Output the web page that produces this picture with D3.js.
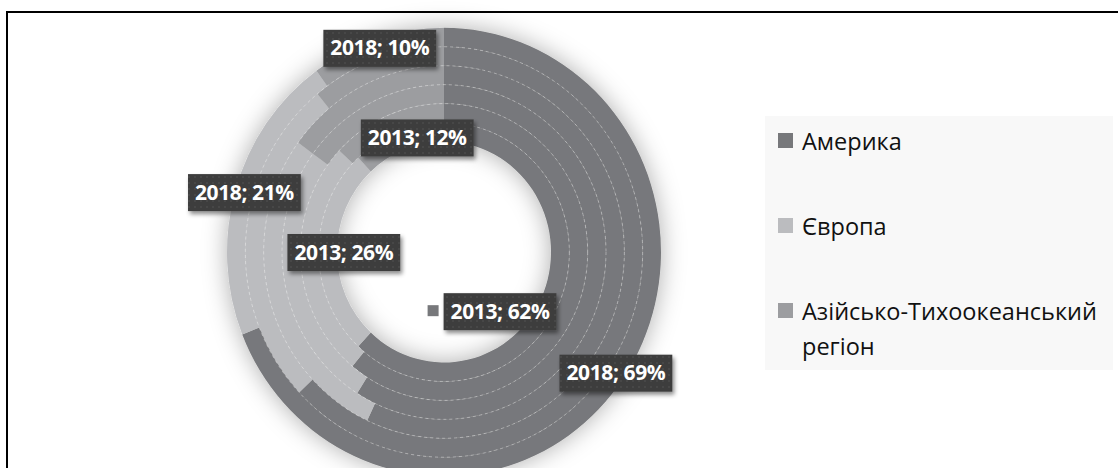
<!DOCTYPE html>
<html>
  <head>
    <meta charset="utf-8">
    <script src="https://d3js.org/d3.v7.min.js"></script>
    <style>
      body { margin: 0; background: #fff; overflow: hidden; }
      svg { display: block; }
      .lbl text { font-family: "Open Sans", sans-serif; font-weight: 700; font-size: 21px; letter-spacing: -0.4px; fill: #fff; }
      .legend text { font-family: "Open Sans", sans-serif; font-size: 23.5px; fill: #111; }
    </style>
  </head>
  <body>
    <svg width="1118" height="468"></svg>
    <script>
      // дані
      var years = ["2013", "2014", "2015", "2016", "2017", "2018"];
      var series = ["Америка", "Європа", "Азійсько-Тихоокеанський регіон"];
      var america = [62, 61, 59, 57, 63, 69];
      var europe = [26, 26, 26, 28, 26, 21];
      var asia = [12, 13, 15, 15, 11, 10];
      var colors = ["#77787b", "#bbbcbf", "#9c9da0"];

      // підписи: рік, ряд, зсув
      var labels = [
        { year: "2018", s: 2, dx: 0, dy: 0 },
        { year: "2013", s: 2, dx: 16, dy: -3 },
        { year: "2018", s: 1, dx: 0, dy: 0 },
        { year: "2013", s: 1, dx: 16, dy: 0 },
        { year: "2013", s: 0, dx: -52, dy: 15, key: true },
        { year: "2018", s: 0, dx: 0, dy: 0 }
      ];

      var cx = 444, cy = 252, ky = 1.033;
      var svg = d3.select("svg");
      var defs = svg.append("defs");

      var sh = defs.append("filter").attr("id", "glow")
        .attr("x", "-30%").attr("y", "-30%").attr("width", "160%").attr("height", "160%");
      sh.append("feDropShadow").attr("dx", 0).attr("dy", 0)
        .attr("stdDeviation", 12).attr("flood-color", "#000").attr("flood-opacity", 0.32);

      var lsh = defs.append("filter").attr("id", "lsh")
        .attr("x", "-20%").attr("y", "-30%").attr("width", "140%").attr("height", "170%");
      lsh.append("feDropShadow").attr("dx", 2).attr("dy", 3)
        .attr("stdDeviation", 2).attr("flood-color", "#000").attr("flood-opacity", 0.45);

      var pat = defs.append("pattern").attr("id", "dots")
        .attr("width", 6).attr("height", 6).attr("patternUnits", "userSpaceOnUse");
      pat.append("rect").attr("width", 6).attr("height", 6).attr("fill", "#3c3c3c");
      pat.append("circle").attr("cx", 3).attr("cy", 3).attr("r", 1).attr("fill", "#4a4a4a");

      // рамка (лише верх і лівий край видно)
      svg.append("path")
        .attr("d", "M7,468V12H1118")
        .attr("fill", "none").attr("stroke", "#000").attr("stroke-width", 2);

      var ring = d3.scaleBand().domain(years).range([107, 217]);
      var pie = d3.pie().sort(null).value(function(d) { return d.v; });
      var arc = d3.arc();

      var rows = years.map(function(y, i) {
        var parts = pie([
          { s: 0, v: america[i] },
          { s: 1, v: europe[i] },
          { s: 2, v: asia[i] }
        ]);
        parts.forEach(function(p) {
          p.innerRadius = ring(y);
          p.outerRadius = ring(y) + ring.bandwidth();
          p.year = y;
        });
        return parts;
      });

      var donut = svg.append("g")
        .attr("transform", "translate(" + cx + "," + cy + ") scale(1," + ky + ")");

      var body = donut.append("g").attr("filter", "url(#glow)");
      body.selectAll("path")
        .data(rows.flat())
        .join("path")
        .attr("d", arc)
        .attr("fill", function(d) { return colors[d.data.s]; });

      // пунктир між кільцями
      donut.selectAll("circle.sep")
        .data(years.slice(1))
        .join("circle")
        .attr("class", "sep")
        .attr("r", function(y) { return ring(y); })
        .attr("fill", "none")
        .attr("stroke", "#fff")
        .attr("stroke-opacity", 0.45)
        .attr("stroke-width", 0.8)
        .attr("stroke-dasharray", "3,3");

      // підписи даних
      var values = [america, europe, asia];
      labels.forEach(function(l) {
        var i = years.indexOf(l.year);
        var p = rows[i][l.s];
        var c = arc.centroid(p);
        var x = cx + c[0] + l.dx, y = cy + c[1] * ky + l.dy;
        var g = svg.append("g").attr("class", "lbl");
        var t = g.append("text")
          .attr("text-anchor", "middle")
          .attr("x", x).attr("y", y + 7.5)
          .text(l.year + "; " + values[l.s][i] + "%");
        var w = t.node().getComputedTextLength() + 14;
        g.insert("rect", "text")
          .attr("x", x - w / 2).attr("y", y - 18)
          .attr("width", w).attr("height", 37)
          .attr("fill", "url(#dots)")
          .attr("filter", "url(#lsh)");
        if (l.key) {
          g.insert("rect", "rect")
            .attr("x", x - w / 2 - 16).attr("y", y - 6)
            .attr("width", 11).attr("height", 11)
            .attr("fill", colors[l.s]);
        }
      });

      // легенда
      var lg = svg.append("g").attr("class", "legend");
      lg.append("rect")
        .attr("x", 765).attr("y", 116).attr("width", 348).attr("height", 254)
        .attr("fill", "#f8f8f8");
      var ly = d3.scalePoint().domain(series).range([150, 320]);
      var item = lg.selectAll("g.item")
        .data(series)
        .join("g")
        .attr("class", "item")
        .attr("transform", function(d) { return "translate(778," + ly(d) + ")"; });
      item.append("rect")
        .attr("y", -17).attr("width", 15).attr("height", 15)
        .attr("fill", function(d, i) { return colors[i]; });
      item.append("text")
        .attr("x", 24)
        .each(function(d) {
          var words = d.split(" ");
          var el = d3.select(this);
          words.forEach(function(w, j) {
            el.append("tspan").attr("x", 24).attr("dy", j ? 35 : 0).text(w);
          });
        });
    </script>
  </body>
</html>
